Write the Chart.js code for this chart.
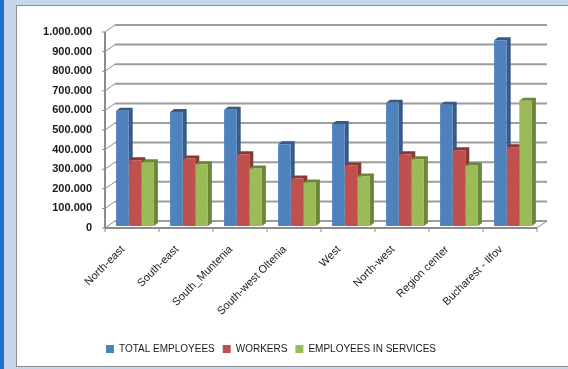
<!DOCTYPE html>
<html>
<head>
<meta charset="utf-8">
<script src="https://cdn.jsdelivr.net/npm/chart.js@4.4.0/dist/chart.umd.min.js"></script>
<style>
  html, body { margin: 0; padding: 0; }
  body { width: 568px; height: 369px; background: #c6d7ec; position: relative; overflow: hidden; }
  #strip { position: absolute; left: 0; top: 0; width: 4px; height: 369px; background: #1f70c6; }
  #frame { position: absolute; left: 16px; top: 5px; width: 552px; height: 362px; box-sizing: border-box;
           background: #fff; border-top: 1px solid #8e8e8e; border-left: 1px solid #8e8e8e; border-bottom: 1px solid #8e8e8e; }
  #chart { position: absolute; left: 16px; top: 6px; }
</style>
</head>
<body>
<div id="strip"></div>
<div id="frame"></div>
<canvas id="chart" width="552" height="360"></canvas>
<script>
var regions = ["North-east", "South-east", "South_Muntenia", "South-west Oltenia", "West", "North-west", "Region center", "Bucharest - Ilfov"];
var totalEmployees = [588000, 582000, 593000, 417000, 521000, 629000, 619000, 948000];
var workers = [335000, 345000, 366000, 242000, 309000, 366000, 387000, 402000];
var servicesEmployees = [325000, 315000, 294000, 222000, 253000, 340000, 309000, 639000];
var yTicks = [0, 100000, 200000, 300000, 400000, 500000, 600000, 700000, 800000, 900000, 1000000];

// fake 3d: offsets of front edge and back wall from the bar plane, and bar depth
var front = { x: -3, y: 2 };
var back = { x: 7, y: -5 };
var depth = { x: 4, y: -3 };

function fmt(v) {
  return String(v).replace(/\B(?=(\d{3})+(?!\d))/g, '.');
}

var walls3d = {
  id: 'walls3d',
  afterLayout: function (chart) {
    chart.legend.left -= 7;
    chart.legend.right -= 7;
  },
  beforeDatasetsDraw: function (chart) {
    var ctx = chart.ctx, xs = chart.scales.x, ys = chart.scales.y;
    var l = xs.left, r = xs.right;
    var y0 = ys.getPixelForValue(0);
    var yTop = ys.getPixelForValue(yTicks[yTicks.length - 1]);
    ctx.save();

    // back wall gridlines + slanted lines on the side wall
    yTicks.forEach(function (v) {
      var py = ys.getPixelForValue(v);
      ctx.strokeStyle = '#9c9c9c';
      ctx.lineWidth = 2;
      ctx.beginPath();
      ctx.moveTo(l + back.x, py + back.y);
      ctx.lineTo(r + back.x, py + back.y);
      ctx.stroke();
      ctx.strokeStyle = '#8c8c8c';
      ctx.lineWidth = 1;
      ctx.beginPath();
      ctx.moveTo(l + front.x - 3, py + front.y);
      ctx.lineTo(l + front.x, py + front.y);
      ctx.lineTo(l + back.x, py + back.y);
      ctx.stroke();
    });

    // side wall front edge
    ctx.strokeStyle = '#8c8c8c';
    ctx.lineWidth = 2;
    ctx.beginPath();
    ctx.moveTo(l + front.x, yTop + front.y);
    ctx.lineTo(l + front.x, y0 + front.y);
    ctx.stroke();

    // floor front edge and right edge
    ctx.beginPath();
    ctx.moveTo(l + front.x, y0 + front.y);
    ctx.lineTo(r + front.x, y0 + front.y);
    ctx.stroke();
    ctx.lineWidth = 1;
    ctx.beginPath();
    ctx.moveTo(r + front.x, y0 + front.y);
    ctx.lineTo(r + back.x, y0 + back.y);
    ctx.stroke();

    // category separators
    for (var i = 0; i <= regions.length; i++) {
      var px = l + (r - l) * i / regions.length + front.x;
      ctx.beginPath();
      ctx.moveTo(px, y0 + front.y);
      ctx.lineTo(px, y0 + front.y + 4);
      ctx.stroke();
    }

    // top and side faces of the bars
    chart.data.datasets.forEach(function (ds, i) {
      var meta = chart.getDatasetMeta(i);
      ctx.fillStyle = ds.sideColor;
      meta.data.forEach(function (bar) {
        var p = bar.getProps(['x', 'y', 'base', 'width'], true);
        var x0 = p.x - p.width / 2, x1 = p.x + p.width / 2;
        ctx.beginPath();
        ctx.moveTo(x0, p.y);
        ctx.lineTo(x0 + depth.x, p.y + depth.y);
        ctx.lineTo(x1 + depth.x, p.y + depth.y);
        ctx.lineTo(x1 + depth.x, p.base + depth.y);
        ctx.lineTo(x1, p.base);
        ctx.lineTo(x1, p.y);
        ctx.closePath();
        ctx.fill();
      });
    });
    ctx.restore();
  }
};

new Chart(document.getElementById('chart'), {
  type: 'bar',
  data: {
    labels: regions,
    datasets: [
      { label: 'TOTAL EMPLOYEES', data: totalEmployees, backgroundColor: '#4f81bd', sideColor: '#375b88' },
      { label: 'WORKERS', data: workers, backgroundColor: '#c0504d', sideColor: '#8b3734' },
      { label: 'EMPLOYEES IN SERVICES', data: servicesEmployees, backgroundColor: '#9bbb59', sideColor: '#6c873a' }
    ]
  },
  options: {
    responsive: false,
    animation: false,
    categoryPercentage: 0.7,
    barPercentage: 1,
    layout: { padding: { left: 0, right: 28, top: 24, bottom: 2 } },
    scales: {
      x: {
        grid: { display: false, drawTicks: false },
        border: { display: false },
        ticks: {
          autoSkip: false, minRotation: 45, maxRotation: 45,
          padding: 17, labelOffset: -12,
          color: '#1a1a1a',
          font: { family: "'Liberation Sans', Arial, sans-serif", size: 11 }
        },
        afterFit: function (s) { s.height = 110; }
      },
      y: {
        min: 0, max: 1000000,
        afterBuildTicks: function (s) { s.ticks = yTicks.map(function (v) { return { value: v }; }); },
        grid: { display: false, drawTicks: false },
        border: { display: false },
        ticks: {
          padding: 16, labelOffset: 2,
          color: '#1a1a1a',
          font: { family: "'Liberation Sans', Arial, sans-serif", size: 11, weight: 'bold' },
          callback: function (v) { return fmt(v); }
        },
        afterFit: function (s) { s.width = 92; }
      }
    },
    plugins: {
      legend: {
        position: 'bottom',
        labels: {
          boxWidth: 8, boxHeight: 8, padding: 8,
          color: '#1a1a1a',
          font: { family: "'Liberation Sans', Arial, sans-serif", size: 10 }
        }
      },
      tooltip: { enabled: false }
    }
  },
  plugins: [walls3d]
});
</script>
</body>
</html>
